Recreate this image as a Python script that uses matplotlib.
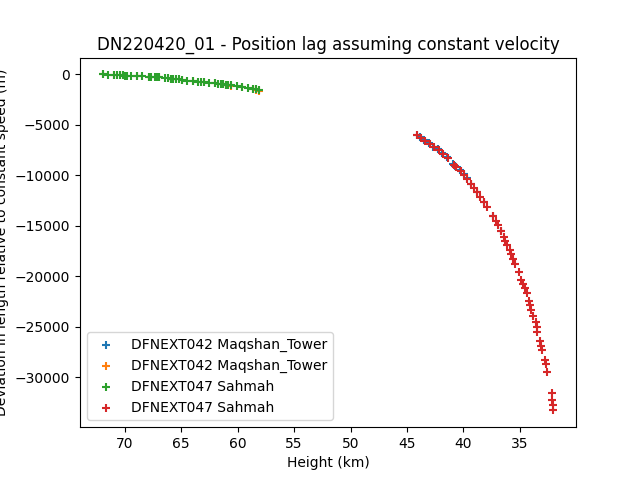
import matplotlib
matplotlib.use("Agg")
import matplotlib.pyplot as plt

# Sahmah, upper segment (green) and Maqshan_Tower twin (orange, mostly hidden)
h_green = [71.98, 71.51, 70.98, 70.74, 70.44, 70.18, 70.03, 69.82, 69.49, 68.96,
           68.49, 67.90, 67.72, 67.36, 67.18, 67.01, 66.42, 66.18, 65.89, 65.76,
           65.47, 65.23, 64.94, 64.52, 63.93, 63.52, 63.28, 62.98, 62.51, 62.03,
           61.74, 61.50, 61.32, 61.03, 60.85, 60.56, 60.08, 59.61, 59.08, 58.66,
           58.37, 58.13]
d_green = [0, -30, -60, -75, -90, -100, -110, -120, -140, -170,
           -200, -230, -240, -260, -275, -290, -350, -380, -420, -430,
           -470, -500, -540, -610, -690, -730, -760, -790, -840, -890,
           -920, -950, -980, -1020, -1050, -1100, -1170, -1250, -1330, -1400,
           -1450, -1500]

h_orange = [71.98, 70.98, 70.18, 68.96, 67.90, 67.01, 65.89, 64.94, 63.93, 62.98,
            62.03, 61.03, 60.56, 59.61, 58.66, 58.37, 58.13]
d_orange = [0, -60, -100, -170, -230, -290, -420, -540, -690, -790,
            -890, -1040, -1130, -1280, -1450, -1540, -1600]

# Sahmah, lower segment (red) and Maqshan_Tower twin (blue, mostly hidden)
h_red = [44.07, 43.78, 43.42, 43.00, 42.65, 42.18, 41.82, 41.40, 40.81, 40.63,
         40.22, 39.92, 39.69, 39.33, 39.09, 38.80, 38.56, 38.21, 37.91, 37.38,
         37.14, 36.90, 36.67, 36.37, 36.28, 36.10, 35.87, 35.75, 35.57, 35.39,
         35.10, 34.86, 34.74, 34.56, 34.39, 34.21, 34.09, 33.97, 33.79, 33.61,
         33.50, 33.44, 33.21, 33.08, 33.03, 32.73, 32.67, 32.55, 32.19, 32.14,
         32.02, 32.02]
d_red = [-6050, -6320, -6570, -6910, -7240, -7510, -7900, -8300, -8950, -9220,
         -9620, -9950, -10340, -10880, -11270, -11670, -12130, -12660, -13120, -14050,
         -14580, -14970, -15570, -16160, -16530, -16930, -17380, -17850, -18310, -18770,
         -19560, -20360, -20750, -21220, -21680, -22480, -22870, -23400, -23990, -24520,
         -25060, -25580, -26440, -26900, -27370, -28290, -28750, -29480, -31600, -32250,
         -32790, -33310]

h_blue = [44.12, 43.84, 43.50, 43.08, 42.72, 42.26, 41.90, 41.48, 40.90, 40.71,
          40.30, 39.98, 39.72, 39.35, 38.80, 38.21, 37.38, 36.67]
d_blue = [-5980, -6230, -6480, -6820, -7150, -7420, -7800, -8200, -8840, -9100,
          -9500, -9850, -10260, -10840, -11650, -12640, -14030, -15550]

fig, ax = plt.subplots(figsize=(6.4, 4.8), dpi=100)
ax.scatter(h_blue, d_blue, marker="+", label="DFNEXT042 Maqshan_Tower")
ax.scatter(h_orange, d_orange, marker="+", label="DFNEXT042 Maqshan_Tower")
ax.scatter(h_green, d_green, marker="+", label="DFNEXT047 Sahmah")
ax.scatter(h_red, d_red, marker="+", label="DFNEXT047 Sahmah")

ax.invert_xaxis()
ax.set_xlabel("Height (km)")
ax.set_ylabel("Deviation in length relative to constant speed (m)")
ax.set_title("DN220420_01 - Position lag assuming constant velocity")
ax.legend(loc="lower left")

fig.savefig("out.png")
